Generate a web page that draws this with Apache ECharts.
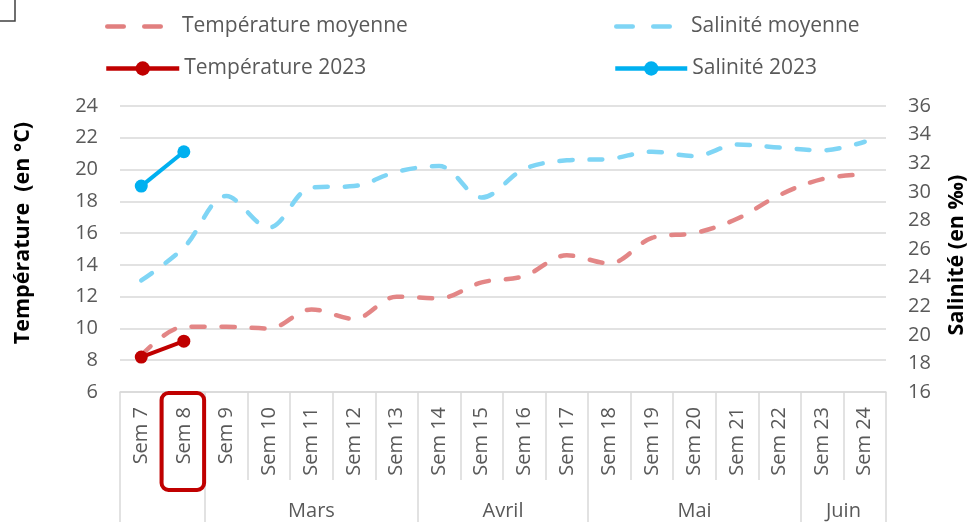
<!DOCTYPE html>
<html>
<head>
<meta charset="utf-8">
<script src="https://cdn.jsdelivr.net/npm/echarts@6/dist/echarts.min.js"></script>
<style>
html,body{margin:0;padding:0;background:#fff;}
#chart{width:975px;height:522px;}
</style>
</head>
<body>
<div id="chart"></div>
<script>
// ---- Data ----
const weeks = ['Sem 7','Sem 8','Sem 9','Sem 10','Sem 11','Sem 12','Sem 13','Sem 14','Sem 15','Sem 16','Sem 17','Sem 18','Sem 19','Sem 20','Sem 21','Sem 22','Sem 23','Sem 24'];
const months = ['', 'Mars', 'Avril', 'Mai', 'Juin'];
const monthWeekCounts = [2, 5, 4, 5, 2];
const tempMoyenne = [8.3, 10.1, 10.1, 10.0, 11.2, 10.6, 12.0, 11.9, 12.9, 13.3, 14.6, 14.1, 15.7, 16.0, 16.9, 18.4, 19.4, 19.7];
const salMoyenne = [23.8, 26.1, 29.7, 27.5, 30.3, 30.4, 31.4, 31.8, 29.6, 31.6, 32.2, 32.3, 32.8, 32.5, 33.3, 33.1, 32.9, 33.5];
const temp2023 = [8.2, 9.2, null, null, null, null, null, null, null, null, null, null, null, null, null, null, null, null];
const sal2023 = [30.4, 32.8, null, null, null, null, null, null, null, null, null, null, null, null, null, null, null, null];
const leftTicks = {min: 6, max: 24, interval: 2};
const rightTicks = {min: 16, max: 36, interval: 2};
const highlightedWeek = 'Sem 8';

// ---- Month axis built from month spans (half-week resolution) ----
const monthPoints = [];
for (let i = 0; i <= weeks.length * 2; i++) monthPoints.push(String(i));
const monthLabelAt = {};
const monthTickAt = {0: true};
let start = 0;
monthWeekCounts.forEach((n, k) => {
  const end = start + n;
  monthLabelAt[start + end] = months[k];
  monthTickAt[2 * end] = true;
  start = end;
});

const FONT = 'Open Sans';
const GREY_TXT = '#595959';
const GRID_C = '#D9D9D9';
const DASH_ICON = 'path://M2.25,0H18.75A2.25,2.25,0,0,1,18.75,4.5H2.25A2.25,2.25,0,0,1,2.25,0Z M39.25,0H55.75A2.25,2.25,0,0,1,55.75,4.5H39.25A2.25,2.25,0,0,1,39.25,0Z';

const chart = echarts.init(document.getElementById('chart'), null, {renderer: 'canvas'});

function lgDashed(name, left, top, color) {
  return {
    data: [{name: name, icon: DASH_ICON, itemStyle: {color: color}}],
    left: left, top: top, padding: 0, itemWidth: 58, itemHeight: 4.5,
    textStyle: {fontFamily: FONT, fontSize: 21, color: GREY_TXT, padding: [0, 0, 0, 14]},
    selectedMode: false
  };
}
function lgSolid(name, left, top, w, color) {
  return {
    data: [name], left: left, top: top, padding: 0, itemWidth: w, itemHeight: 18,
    lineStyle: {width: 4.5, color: color},
    itemStyle: {color: color},
    textStyle: {fontFamily: FONT, fontSize: 21, color: GREY_TXT},
    selectedMode: false
  };
}

const option = {
  animation: false,
  backgroundColor: '#fff',
  grid: {left: 120, right: 89, top: 106, bottom: 130, containLabel: false},
  legend: [
    lgDashed('Température moyenne', 105, 16, '#E17F7F'),
    lgSolid('Température 2023', 104, 58, 73, '#C00000'),
    lgDashed('Salinité moyenne', 614, 16, '#7FD5F5'),
    lgSolid('Salinité 2023', 613, 58, 72, '#00B0F0')
  ],
  xAxis: [
    {
      type: 'category', data: weeks, boundaryGap: true, position: 'bottom',
      axisLine: {show: true, lineStyle: {color: GRID_C, width: 1.5}},
      axisTick: {show: true, interval: 0, length: 88, lineStyle: {color: GRID_C, width: 1.5}},
      axisLabel: {interval: 0, rotate: 90, margin: 15, fontFamily: FONT, fontSize: 20, color: GREY_TXT}
    },
    {
      type: 'category', data: monthPoints, boundaryGap: false, position: 'bottom',
      axisLine: {show: false},
      axisTick: {show: true, length: 130, interval: (i) => !!monthTickAt[i], lineStyle: {color: GRID_C, width: 1.5}},
      axisLabel: {interval: 0, margin: 109, fontFamily: FONT, fontSize: 20, color: GREY_TXT,
        formatter: (v, i) => monthLabelAt[i] || ''},
      splitLine: {show: false}
    }
  ],
  yAxis: [
    {
      type: 'value', min: leftTicks.min, max: leftTicks.max, interval: leftTicks.interval, position: 'left',
      axisLine: {show: false}, axisTick: {show: false},
      axisLabel: {margin: 22, fontFamily: FONT, fontSize: 20, color: GREY_TXT},
      splitLine: {show: true, lineStyle: {color: GRID_C, width: 1.5}}
    },
    {
      type: 'value', min: rightTicks.min, max: rightTicks.max, interval: rightTicks.interval, position: 'right',
      axisLine: {show: false}, axisTick: {show: false},
      axisLabel: {margin: 22, fontFamily: FONT, fontSize: 20, color: GREY_TXT},
      splitLine: {show: false}
    }
  ],
  series: [
    {
      name: 'Température moyenne', type: 'line', yAxisIndex: 0, data: tempMoyenne,
      smooth: 0.35, symbol: 'none', color: '#E17F7F',
      lineStyle: {width: 4.5, type: [13, 17], cap: 'round', color: '#E17F7F', opacity: 0.95}
    },
    {
      name: 'Salinité moyenne', type: 'line', yAxisIndex: 1, data: salMoyenne,
      smooth: 0.35, symbol: 'none', color: '#7FD5F5',
      lineStyle: {width: 4.5, type: [13, 17], cap: 'round', color: '#7FD5F5'}
    },
    {
      name: 'Température 2023', type: 'line', yAxisIndex: 0, data: temp2023,
      symbol: 'circle', symbolSize: 13, color: '#C00000',
      lineStyle: {width: 4, color: '#C00000'}, itemStyle: {color: '#C00000'}
    },
    {
      name: 'Salinité 2023', type: 'line', yAxisIndex: 1, data: sal2023,
      symbol: 'circle', symbolSize: 13, color: '#00B0F0',
      lineStyle: {width: 4, color: '#00B0F0'}, itemStyle: {color: '#00B0F0'}
    }
  ],
  graphic: [
    {type: 'text', x: 23, y: 233, rotation: Math.PI / 2,
      style: {text: 'Température  (en °C)', fontFamily: FONT, fontSize: 21.5, fontWeight: 'bold', fill: '#000', align: 'center', verticalAlign: 'middle'}},
    {type: 'text', x: 957, y: 255, rotation: Math.PI / 2,
      style: {text: 'Salinité (en ‰)', fontFamily: FONT, fontSize: 21.5, fontWeight: 'bold', fill: '#000', align: 'center', verticalAlign: 'middle'}},
    {type: 'rect', shape: {x: -10, y: -10, width: 25, height: 31}, style: {fill: 'none', stroke: '#404040', lineWidth: 1.5}}
  ]
};
chart.setOption(option);

// Highlight box around the current-week label, positioned from the axis scale
const cx = chart.convertToPixel({xAxisIndex: 0}, highlightedWeek);
const bandW = chart.convertToPixel({xAxisIndex: 0}, weeks[1]) - chart.convertToPixel({xAxisIndex: 0}, weeks[0]);
const yBase = chart.convertToPixel({yAxisIndex: 0}, leftTicks.min);
chart.setOption({
  graphic: option.graphic.concat([{
    type: 'rect', z: 100,
    shape: {x: cx - bandW / 2 - 1, y: yBase + 1, width: bandW, height: 97, r: 7},
    style: {fill: 'none', stroke: '#C00000', lineWidth: 4}
  }])
});
</script>
</body>
</html>
